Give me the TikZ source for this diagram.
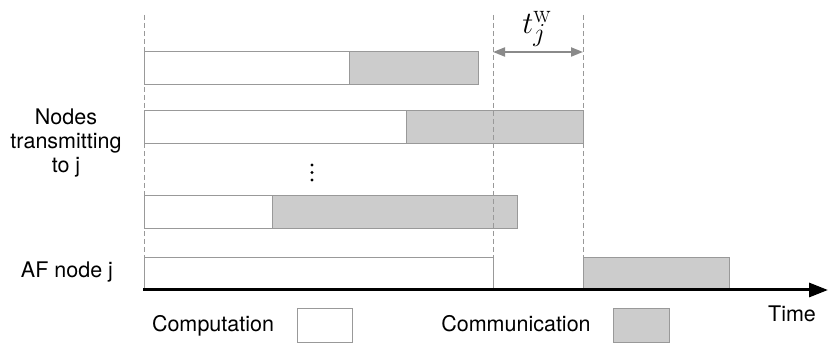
\documentclass[tikz,border=0pt]{standalone}
\usepackage{fontspec}
\setsansfont{TeX Gyre Heros}
\usetikzlibrary{arrows.meta}
\definecolor{edgegray}{HTML}{999999}
\definecolor{commgray}{HTML}{CCCCCC}
\definecolor{spangray}{HTML}{8A8A8A}
\begin{document}
\begin{tikzpicture}[x=1pt,y=-1pt,
	comp/.style={draw=edgegray, fill=white, line width=1pt},
	comm/.style={draw=edgegray, fill=commgray, line width=1pt},
	guide/.style={draw=edgegray, line width=0.9pt, dash pattern=on 5pt off 3pt},
	lbl/.style={font=\sffamily\fontsize{21.5}{24}\selectfont, inner sep=0pt}]
	\useasboundingbox (0,0) rectangle (830,344);
	% transmitting nodes: computation then communication
	\foreach \ytop/\split/\stop in {52/349/478, 111/406/583, 196/272/517} {
		\draw[comp] (144,\ytop) rectangle (\split,\ytop+33);
		\draw[comm] (\split,\ytop) rectangle (\stop,\ytop+33);
	}
	\foreach \yd in {165,172.5,180} {\fill (312,\yd) circle (1.6);}
	% AF node j
	\draw[comp] (144,290) -- (144,258) -- (493,258) -- (493,290);
	\draw[comm] (583,290) -- (583,258) -- (729,258) -- (729,290);
	% guides
	\foreach \xg in {144,493,583} {\draw[guide] (\xg,15) -- (\xg,258);}
	\coordinate (wL) at (493,52);
	\coordinate (wR) at (583,52);
	\draw[spangray, line width=2pt, {Triangle[length=12pt,width=9pt]}-{Triangle[length=12pt,width=9pt]}] (wL) -- (wR);
	\node[anchor=base west, inner sep=0pt, scale=1.25, font=\fontsize{24.88}{28}\selectfont] (twlbl) at (522,34) {$t_j^{\mathrm{w}}$};
	% time axis
	\coordinate (origin) at (143,290);
	\coordinate (tip) at (828,290);
	\draw[line width=3pt, -{Triangle[length=19pt,width=14pt]}] (origin) -- (tip);
	\node[lbl, anchor=base] (timelbl) at (792,322) {Time};
	% row labels
	\node[lbl, align=center] (nodeslbl) at (66,143) {Nodes\\transmitting\\to j};
	\node[lbl, anchor=base] (aflbl) at (67,278) {AF node j};
	% legend
	\node[lbl, anchor=base] (complbl) at (213,332) {Computation};
	\node[comp, minimum width=55pt, minimum height=34pt, inner sep=0pt] (compkey) at (324.5,326) {};
	\node[lbl, anchor=base] (commlbl) at (516,332) {Communication};
	\node[comm, minimum width=56pt, minimum height=34pt, inner sep=0pt] (commkey) at (641,326) {};
\end{tikzpicture}
\end{document}
